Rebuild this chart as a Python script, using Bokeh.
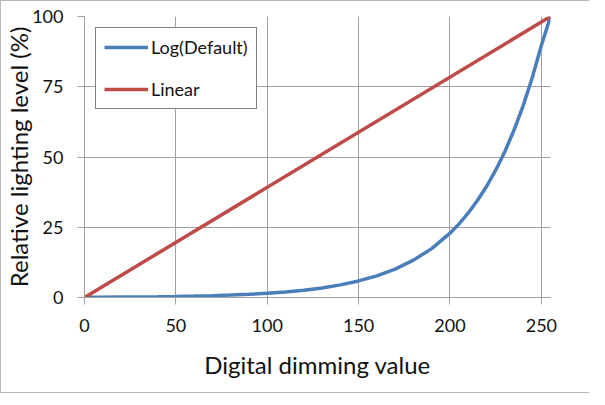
from bokeh.plotting import figure
from bokeh.models import Range1d, FixedTicker, Legend, LegendItem
from bokeh.embed import file_html
from bokeh.resources import INLINE

# Data
log_x = [0, 10, 20, 30, 40, 50, 60, 70, 80, 90, 100, 110, 120, 130, 140, 150,
         160, 170, 180, 190, 200, 205, 210, 215, 220, 225, 230, 235, 240, 245, 250, 255]
log_y = [0.1, 0.13, 0.17, 0.22, 0.29, 0.38, 0.5, 0.66, 0.87, 1.14, 1.5, 1.96, 2.6, 3.4, 4.5, 5.9,
         7.7, 10.1, 13.3, 17.4, 22.9, 26.2, 30.1, 34.5, 39.5, 45.3, 51.9, 59.5, 68.2, 78.2, 89.7, 100]
lin_x = [0, 255]
lin_y = [0, 100]
x_ticks = [0, 50, 100, 150, 200, 250]
y_ticks = [0, 25, 50, 75, 100]

FONT = "Lato"
GRID = "#a0a0a0"
BLUE = "#4a7ebb"
RED = "#be4b48"

p = figure(width=589, height=393, output_backend="svg", toolbar_location=None,
           x_range=Range1d(0, 255), y_range=Range1d(0, 100),
           min_border_left=83, min_border_right=40, min_border_top=15, min_border_bottom=97)
p.styles = {"border-left": "1px solid #b8b8b8", "border-top": "1px solid #b8b8b8",
            "border-bottom": "1px solid #b8b8b8"}
p.outline_line_color = None
p.background_fill_color = "white"
p.border_fill_color = "white"

for ax in (p.xaxis[0], p.yaxis[0]):
    ax.axis_line_color = GRID
    ax.major_tick_line_color = GRID
    ax.major_tick_out = 7
    ax.major_tick_in = 0
    ax.minor_tick_line_color = None
    ax.major_label_text_font = FONT
    ax.major_label_text_font_size = "18px"
    ax.major_label_text_color = "#111111"
    ax.axis_label_text_font = FONT
    ax.axis_label_text_font_size = "24px"
    ax.axis_label_text_font_style = "normal"
    ax.axis_label_text_color = "#111111"

p.xaxis.ticker = FixedTicker(ticks=x_ticks)
p.yaxis.ticker = FixedTicker(ticks=y_ticks)
p.xaxis.axis_label = "Digital dimming value"
p.yaxis.axis_label = "Relative lighting level (%)"
p.xaxis.major_label_standoff = 14
p.yaxis.major_label_standoff = 14
p.xaxis.axis_label_standoff = 15
p.yaxis.axis_label_standoff = -4

p.xgrid.ticker = FixedTicker(ticks=x_ticks)
p.ygrid.ticker = FixedTicker(ticks=y_ticks)
p.grid.grid_line_color = GRID
p.grid.grid_line_width = 1

r_log = p.line(log_x, log_y, line_color=BLUE, line_width=3.5)
r_lin = p.line(lin_x, lin_y, line_color=RED, line_width=3.5)

legend = Legend(items=[LegendItem(label="Log(Default)", renderers=[r_log]),
                       LegendItem(label="Linear", renderers=[r_lin])],
                location=(11, 188))
legend.border_line_color = "black"
legend.border_line_width = 1
legend.background_fill_color = "white"
legend.background_fill_alpha = 1
legend.label_text_font = FONT
legend.label_text_font_size = "18px"
legend.label_text_color = "#111111"
legend.glyph_width = 44
legend.glyph_height = 20
legend.label_height = 20
legend.label_standoff = 3
legend.spacing = 20
legend.padding = 8
legend.margin = 0
p.add_layout(legend, "center")

open("out.html", "w").write(file_html(p, INLINE))
